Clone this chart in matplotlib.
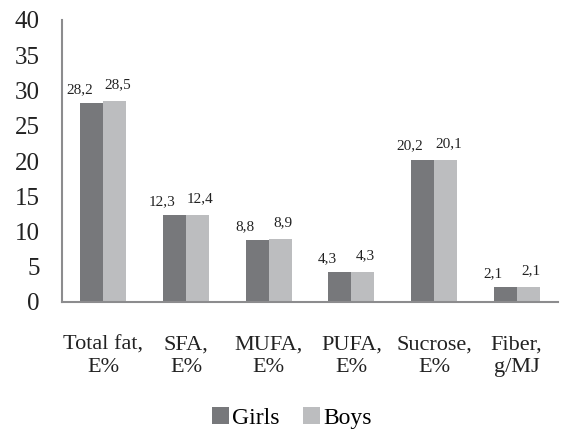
import matplotlib
matplotlib.use("Agg")
import matplotlib.pyplot as plt
import numpy as np

categories = ["Total fat,\nE%", "SFA,\nE%", "MUFA,\nE%", "PUFA,\nE%", "Sucrose,\nE%", "Fiber,\ng/MJ"]
girls = [28.2, 12.3, 8.8, 4.3, 20.2, 2.1]
boys = [28.5, 12.4, 8.9, 4.3, 20.1, 2.1]
yticks = [0, 5, 10, 15, 20, 25, 30, 35, 40]

plt.rcParams['font.family'] = ['Liberation Serif', 'DejaVu Serif']

fig = plt.figure(figsize=(5.61, 4.42), dpi=100)
ax = fig.add_axes([62/561, 140/442, 496/561, 282/442])

x = np.arange(len(categories))
w = 0.28
c_girls = '#77787b'
c_boys = '#bcbdbf'
bg = ax.bar(x - w/2, girls, w, color=c_girls, label='Girls')
bb = ax.bar(x + w/2, boys, w, color=c_boys, label='Boys')

def fmt(v):
    return f"{v:.1f}".replace('.', ',')

for xi, v in zip(x, girls):
    ax.annotate(fmt(v), (xi - w/2, v), xytext=(-9, 5), textcoords='offset points',
                ha='center', va='bottom', fontsize=11, color='#222222')
for xi, v in zip(x, boys):
    ax.annotate(fmt(v), (xi + w/2, v), xytext=(2, 7), textcoords='offset points',
                ha='center', va='bottom', fontsize=11, color='#222222')

ax.set_xlim(-0.5, len(categories) - 0.5)
ax.set_ylim(0, 40)
ax.set_yticks(yticks)
ax.set_yticklabels([str(t) for t in yticks], fontsize=18, color='#222222')
ax.set_xticks(x)
ax.set_xticklabels(categories, fontsize=16, color='#222222', linespacing=1.25)
ax.tick_params(axis='y', length=0, pad=16)
ax.tick_params(axis='x', length=0, pad=24)

for s in ['top', 'right']:
    ax.spines[s].set_visible(False)
for s in ['left', 'bottom']:
    ax.spines[s].set_color('#8c8c8e')
    ax.spines[s].set_linewidth(1.5)

fig.legend(handles=[bg, bb], labels=['Girls', 'Boys'], loc='center',
           bbox_to_anchor=(292/561, 1 - 418/442), ncol=2, frameon=False,
           fontsize=17, handlelength=0.7, handleheight=0.7, handletextpad=0.15,
           columnspacing=1.0)

fig.savefig('out.png', dpi=100)
